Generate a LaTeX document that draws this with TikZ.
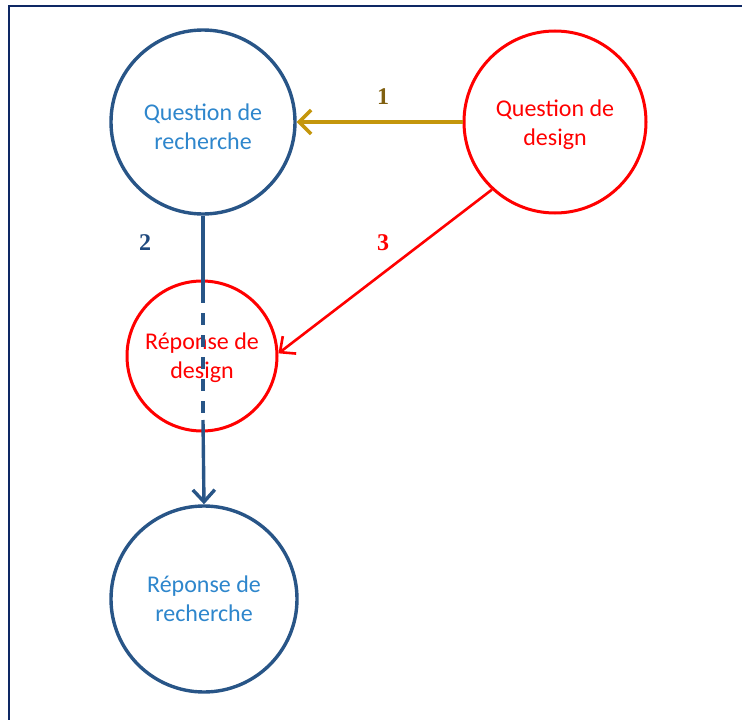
\documentclass[tikz,border=0pt]{standalone}
\usepackage{fontspec}
\setmainfont{Carlito}
\newfontfamily\numfont{Liberation Serif}
\usetikzlibrary{arrows.meta}
\definecolor{framecol}{RGB}{14,40,100}
\definecolor{circblue}{RGB}{40,85,135}
\definecolor{txtblue}{RGB}{46,134,204}
\definecolor{goldarrow}{RGB}{196,150,12}
\definecolor{goldtxt}{RGB}{128,96,16}
\definecolor{numblue}{RGB}{31,73,125}
\definecolor{myred}{RGB}{255,0,0}
\begin{document}
\begin{tikzpicture}[x=1pt,y=-1pt,
  circ/.style={circle,draw,line width=3.4pt,inner sep=0pt},
  bluecirc/.style={circ,draw=circblue},
  redcirc/.style={circ,draw=myred,line width=3pt},
  ctext/.style={align=center,inner sep=0pt,font=\fontsize{24}{29}\selectfont},
  numlbl/.style={font=\numfont\bfseries\fontsize{24}{26}\selectfont,inner sep=0pt},
  tip/.style={-{Straight Barb[length=12pt,width=24pt,line width=3.4pt]}}
]
\useasboundingbox (0,0) rectangle (742,720);
% frame (left and top edges)
\draw[framecol,line width=2.5pt] (9,720) -- (9,6) -- (742,6);

\node[bluecirc,minimum size=184pt] (qr) at (203,122) {};
\node[redcirc,minimum size=182pt] (qd) at (555,122) {};
\node[redcirc,minimum size=150pt] (rd) at (202,356) {};
\node[bluecirc,minimum size=186pt] (rr) at (204,599) {};

\node[ctext,text=txtblue] (qrt) at ([yshift=-5pt]qr.center) {Question de\\recherche};
\node[ctext,text=myred] (qdt) at ([yshift=-3pt]qd.center) {Question de\\design};
\node[ctext,text=myred] (rdt) at ([yshift=-2pt]rd.center) {Réponse de\\design};
\node[ctext,text=txtblue] (rrt) at (rr.center) {Réponse de\\recherche};

% arrow 1
\draw[goldarrow,line width=3.4pt,tip] (qd.west) -- (qr.east);
\node[numlbl,text=goldtxt] (l1) at (383,97) {1};

% arrow 2
\coordinate (a2) at (203,291);
\coordinate (b2) at (203,420);
\draw[circblue,line width=3.4pt] (qr.south) -- (a2);
\draw[circblue,line width=3.4pt,dash pattern=on 12pt off 10pt] (a2) -- (b2);
\draw[circblue,line width=3.4pt,-{Straight Barb[length=12pt,width=22pt,line width=3.4pt]}] (b2) -- (rr.north);
\node[numlbl,text=numblue] (l2) at (145,243) {2};

% arrow 3
\draw[myred,line width=2.6pt,-{Straight Barb[length=12pt,width=22pt,line width=2.6pt]}] (qd.227) -- (rd.2);
\node[numlbl,text=myred] (l3) at (383,243) {3};
\end{tikzpicture}
\end{document}
